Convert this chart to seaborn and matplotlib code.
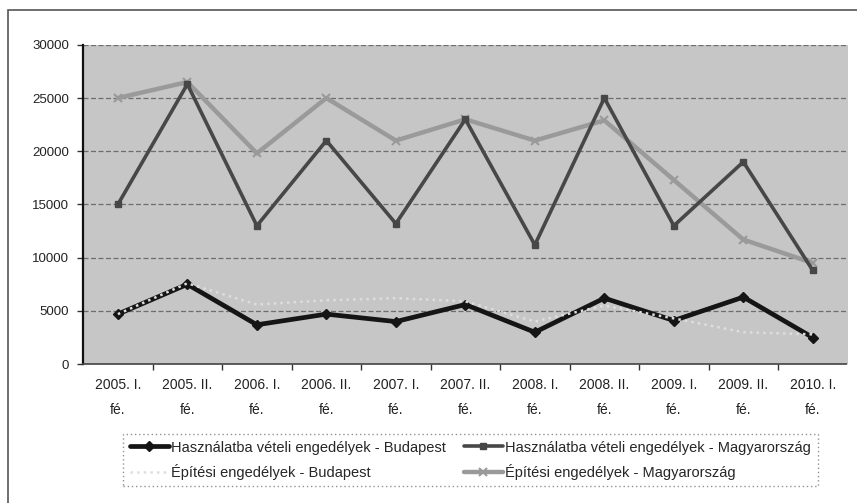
import matplotlib
matplotlib.use("Agg")
import matplotlib.pyplot as plt
from matplotlib.patches import Rectangle
from matplotlib.ticker import FixedLocator, MultipleLocator
import pandas as pd
import seaborn as sns

periods = [
    "2005. I.\nfé.", "2005. II.\nfé.", "2006. I.\nfé.", "2006. II.\nfé.",
    "2007. I.\nfé.", "2007. II.\nfé.", "2008. I.\nfé.", "2008. II.\nfé.",
    "2009. I.\nfé.", "2009. II.\nfé.", "2010. I.\nfé.",
]
hasznalatba_budapest = [4700, 7500, 3700, 4700, 4000, 5600, 3000, 6200, 4100, 6300, 2500]
epitesi_budapest = [4700, 7600, 5600, 6000, 6200, 5900, 4000, 5500, 4300, 3000, 2800]
hasznalatba_magyarorszag = [15000, 26300, 13000, 21000, 13200, 23000, 11200, 25000, 13000, 19000, 8800]
epitesi_magyarorszag = [25000, 26500, 19800, 25000, 21000, 23000, 21000, 22900, 17300, 11700, 9500]

labels = [
    "Használatba vételi engedélyek - Budapest",
    "Építési engedélyek - Budapest",
    "Használatba vételi engedélyek - Magyarország",
    "Építési engedélyek - Magyarország",
]

sns.set_style("white")
plt.rcParams["font.family"] = ["Liberation Sans", "DejaVu Sans"]

fig = plt.figure(figsize=(8.57, 5.03), dpi=100)
ax = fig.add_axes([0.097, 0.276, 0.892, 0.635])
ax.set_facecolor("#c6c6c6")

# drawing order: country series first, Budapest on top
styles = {
    labels[3]: dict(color="#9a9a9a", lw=3.2, marker="x", ms=6, mew=1.5, z=2),
    labels[2]: dict(color="#474747", lw=2.6, marker="s", ms=5, mew=1, z=3),
    labels[0]: dict(color="#151515", lw=3.4, marker="D", ms=5, mew=1, z=4),
    labels[1]: dict(color="#dedede", lw=1.8, marker=None, ms=0, mew=0, z=5),
}
series = {
    labels[0]: hasznalatba_budapest,
    labels[1]: epitesi_budapest,
    labels[2]: hasznalatba_magyarorszag,
    labels[3]: epitesi_magyarorszag,
}

handles = {}
for name in [labels[3], labels[2], labels[0], labels[1]]:
    st = styles[name]
    df = pd.DataFrame({"period": periods, "value": series[name]})
    sns.lineplot(
        data=df, x="period", y="value", ax=ax, sort=False,
        color=st["color"], linewidth=st["lw"], marker=st["marker"],
        markersize=st["ms"], markeredgewidth=st["mew"],
        markeredgecolor=st["color"], zorder=st["z"], label=name,
        linestyle=":" if name == labels[1] else "-",
    )
    handles[name] = ax.get_lines()[-1]

ax.set_ylim(0, 30000)
ax.set_xlim(-0.5, len(periods) - 0.5)
ax.yaxis.set_major_locator(MultipleLocator(5000))
ax.grid(axis="y", color="#6e6e6e", linestyle=(0, (4, 2)), linewidth=0.9, zorder=1)
ax.set_axisbelow(True)
ax.set_xlabel("")
ax.set_ylabel("")

ax.tick_params(axis="y", labelsize=9.5, length=4, width=1, color="#333333",
               left=True, pad=6, labelcolor="#222222")
ax.tick_params(axis="x", labelsize=10, length=0, pad=10, labelcolor="#222222")
for t in ax.get_xticklabels():
    t.set_linespacing(2.0)
ax.xaxis.set_minor_locator(FixedLocator([i + 0.5 for i in range(len(periods) - 1)]))
ax.tick_params(axis="x", which="minor", length=4, width=1, color="#333333", bottom=True)

for side in ["top", "right"]:
    ax.spines[side].set_visible(False)
ax.spines["left"].set_color("#111111")
ax.spines["left"].set_linewidth(1.6)
ax.spines["bottom"].set_color("#444444")
ax.spines["bottom"].set_linewidth(1.2)
ax.spines["bottom"].set_linestyle((0, (2, 1)))

ax.get_legend().remove()
leg = fig.legend(
    [handles[n] for n in labels], labels,
    loc="upper left", bbox_to_anchor=(123 / 857, 1 - 434 / 503), ncol=2,
    frameon=True, fontsize=10.5, handlelength=2.7, handletextpad=0.15,
    columnspacing=1.2, labelspacing=0.62, borderpad=0.45, borderaxespad=0,
)
frame = leg.get_frame()
frame.set_edgecolor("#777777")
frame.set_linestyle((0, (1, 2)))
frame.set_linewidth(1.0)
frame.set_boxstyle("square", pad=0)

# outer chart border
fig.patches.append(Rectangle((8 / 857, -0.05), 1.1, 1 - 10 / 503 + 0.05,
                             transform=fig.transFigure, fill=False,
                             edgecolor="#555555", linewidth=1.2))

fig.savefig("out.png", dpi=100)
